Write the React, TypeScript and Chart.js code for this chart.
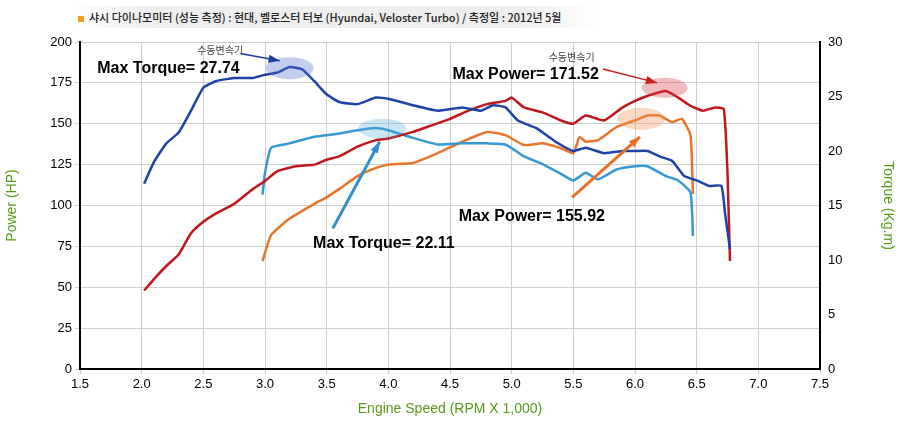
import React, { useEffect, useRef } from "react";
import { Chart, registerables } from "chart.js";
Chart.register(...registerables);

const title = "샤시 다이나모미터 (성능 측정)  :  현대, 벨로스터 터보 (Hyundai, Veloster Turbo) / 측정일 : 2012년 5월";
const xTitle = "Engine Speed (RPM X 1,000)";
const leftTitle = "Power (HP)";
const rightTitle = "Torque (Kg.m)";

const torqueManualRpm = [2.02,2.1,2.2,2.3,2.4,2.5,2.6,2.75,2.9,3.0,3.1,3.2,3.3,3.4,3.5,3.6,3.75,3.9,4.0,4.2,4.4,4.6,4.75,4.85,4.95,5.05,5.2,5.35,5.5,5.6,5.75,5.9,6.0,6.1,6.2,6.3,6.4,6.5,6.6,6.7,6.73,6.77];
const torqueManual = [17.0,19.0,20.7,21.7,23.7,25.8,26.4,26.7,26.7,27.0,27.2,27.7,27.5,26.4,25.2,24.5,24.3,24.9,24.8,24.2,23.7,24.0,23.7,24.2,24.0,22.8,22.1,20.9,20.0,20.3,19.8,20.0,20.0,20.0,19.5,19.1,17.7,17.3,16.8,16.8,14.3,11.0];

const powerManualRpm = [2.02,2.1,2.2,2.3,2.4,2.5,2.6,2.75,2.9,3.0,3.1,3.25,3.4,3.5,3.6,3.75,3.9,4.0,4.2,4.35,4.5,4.65,4.8,4.95,5.0,5.1,5.25,5.4,5.5,5.6,5.75,5.9,6.0,6.1,6.25,6.35,6.45,6.55,6.65,6.72,6.75,6.77];
const powerManual = [48,55,63,70,83,90,95,101,110,115,121,124,125,128,130,136,140,141,145,149,153,158,162,164,166,160,157,152,150,155,152,160,164,167,170,166,161,158,160,159,120,66];

const torqueOtherRpm = [2.98,3.0,3.05,3.2,3.4,3.6,3.75,3.9,4.0,4.2,4.4,4.6,4.8,4.95,5.1,5.25,5.4,5.5,5.6,5.7,5.85,6.0,6.1,6.25,6.35,6.45,6.47];
const torqueOther = [16.0,18.0,20.3,20.7,21.3,21.6,21.9,22.1,21.9,21.2,20.6,20.7,20.7,20.6,19.5,18.8,17.9,17.3,18.0,17.4,18.3,18.6,18.6,17.7,17.3,16.2,12.2];

const powerOtherRpm = [2.98,3.05,3.2,3.4,3.5,3.6,3.75,3.9,4.0,4.2,4.4,4.6,4.8,4.95,5.1,5.25,5.4,5.5,5.55,5.6,5.7,5.85,6.0,6.1,6.2,6.3,6.38,6.45,6.47];
const powerOther = [66,82,92,101,105,110,118,123,125,126,132,139,145,143,137,138,135,132,142,139,140,148,152,155,155,151,153,143,107];

const pts = (xs: number[], ys: number[]) => xs.map((x, i) => ({ x, y: ys[i] }));

const annot = {
  id: "annot",
  afterDatasetsDraw(chart: any) {
    const { ctx, scales } = chart;
    const X = (v: number) => scales.x.getPixelForValue(v);
    const L = (v: number) => scales.y.getPixelForValue(v);
    ctx.save();
    const ell = (x: number, y: number, rx: number, ry: number, c: string) => {
      ctx.fillStyle = c; ctx.beginPath(); ctx.ellipse(x, y, rx, ry, 0, 0, Math.PI * 2); ctx.fill();
    };
    ell(X(3.2), L(184), 24, 11, "rgba(80,110,200,0.35)");
    ell(X(3.95), L(147), 24, 10, "rgba(80,170,220,0.3)");
    ell(X(6.24), L(172), 23, 10, "rgba(210,60,70,0.35)");
    ell(X(6.05), L(153), 24, 11, "rgba(240,150,90,0.35)");
    const arrow = (x1: number, y1: number, x2: number, y2: number, c: string, w: number) => {
      ctx.strokeStyle = c; ctx.fillStyle = c; ctx.lineWidth = w;
      ctx.beginPath(); ctx.moveTo(x1, y1); ctx.lineTo(x2, y2); ctx.stroke();
      const a = Math.atan2(y2 - y1, x2 - x1), h = 12;
      ctx.beginPath(); ctx.moveTo(x2, y2);
      ctx.lineTo(x2 - h * Math.cos(a - 0.35), y2 - h * Math.sin(a - 0.35));
      ctx.lineTo(x2 - h * Math.cos(a + 0.35), y2 - h * Math.sin(a + 0.35));
      ctx.closePath(); ctx.fill();
    };
    arrow(X(2.8), L(193), X(3.12), L(188.5), "#1f3e9c", 1.5);
    arrow(X(5.74), L(183.5), X(6.18), L(175), "#c81e1e", 1.5);
    arrow(X(3.55), L(86), X(3.93), L(139), "#2f8fd0", 3);
    arrow(X(5.49), L(105), X(6.04), L(142), "#e8702a", 3);
    ctx.fillStyle = "#000";
    ctx.font = "bold 16px 'Liberation Sans', Arial, sans-serif";
    ctx.textBaseline = "middle";
    ctx.fillText("Max Torque= 27.74", X(1.64), L(184));
    ctx.fillText("Max Power= 171.52", X(4.52), L(180));
    ctx.fillText("Max Power= 155.92", X(4.57), L(93));
    ctx.fillText("Max Torque= 22.11", X(3.39), L(77));
    ctx.font = "10px 'Noto Sans CJK KR', sans-serif";
    ctx.fillStyle = "#444";
    ctx.fillText("수동변속기", X(2.45), L(195));
    ctx.fillText("수동변속기", X(5.3), L(191));
    ctx.restore();
  },
};

export default function App() {
  const ref = useRef<HTMLCanvasElement>(null);
  useEffect(() => {
    const font = { family: "'Liberation Sans', Arial, sans-serif", size: 13 };
    const ds = (data: any, axis: string, color: string) => ({ data, yAxisID: axis, borderColor: color, borderWidth: 2.5, pointRadius: 0, tension: 0.15 });
    const c = new Chart(ref.current!, {
      type: "line",
      data: {
        datasets: [
          ds(pts(torqueManualRpm, torqueManual), "y1", "#1d43a8"),
          ds(pts(powerManualRpm, powerManual), "y", "#c0161c"),
          ds(pts(torqueOtherRpm, torqueOther), "y1", "#3799d3"),
          ds(pts(powerOtherRpm, powerOther), "y", "#e8742c"),
        ],
      },
      options: {
        animation: false, responsive: false, maintainAspectRatio: false,
        layout: { padding: { top: 42, left: 0, right: 0, bottom: 0 } },
        plugins: { legend: { display: false }, tooltip: { enabled: false } },
        scales: {
          x: {
            type: "linear", min: 1.5, max: 7.5,
            ticks: { stepSize: 0.5, color: "#000", font, callback: (v: any) => Number(v).toFixed(1) },
            grid: { color: "#cfcfcf", tickLength: 5 },
            border: { color: "#000", width: 2 },
            title: { display: true, text: xTitle, color: "#5a9a1a", font: { ...font, size: 14 }, padding: { top: 0 } },
            afterFit: (s: any) => { s.height = 53; },
          },
          y: {
            position: "left", min: 0, max: 200,
            ticks: { stepSize: 25, color: "#000", font },
            grid: { color: "#cfcfcf", tickLength: 5 },
            border: { color: "#000", width: 2 },
            title: { display: true, text: leftTitle, color: "#5a9a1a", font: { ...font, size: 14 } },
            afterFit: (s: any) => { s.width = 80; },
          },
          y1: {
            position: "right", min: 0, max: 30,
            ticks: { stepSize: 5, color: "#000", font },
            grid: { display: false, tickLength: 5 },
            border: { color: "#000", width: 2 },
            title: { display: true, text: rightTitle, color: "#5a9a1a", font: { ...font, size: 14 } },
            afterFit: (s: any) => { s.width = 80; },
          },
        },
      },
      plugins: [annot],
    });
    return () => c.destroy();
  }, []);
  return (
    <div style={{ position: "absolute", left: 0, top: 0, width: 900, height: 422, background: "#fff" }}>
      <div style={{ position: "absolute", left: 70, top: 6, width: 530, height: 22, background: "linear-gradient(to right, #fff, #eee 15%, #eee 85%, #fff)",
        fontFamily: "'Noto Sans CJK KR', sans-serif", fontSize: 11, fontWeight: 500, lineHeight: "22px", color: "#222", paddingLeft: 8, boxSizing: "border-box" }}>
        <span style={{ display: "inline-block", width: 6, height: 6, background: "#f0a020", marginRight: 5, verticalAlign: "middle" }} />
        {title}
      </div>
      <canvas ref={ref} width={900} height={422} style={{ position: "absolute", left: 0, top: 0 }} />
    </div>
  );
}
